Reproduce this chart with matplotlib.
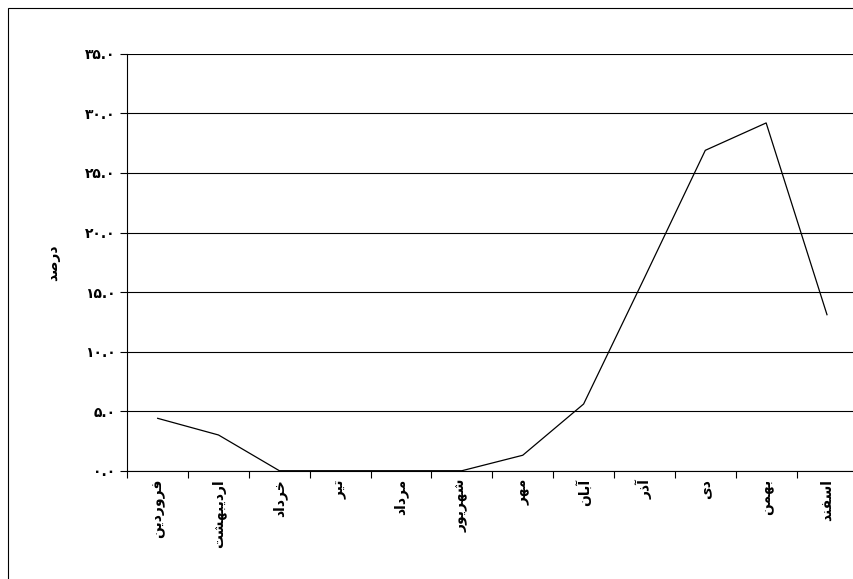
import matplotlib
matplotlib.use("Agg")
import matplotlib.pyplot as plt
from matplotlib.patches import Rectangle

months = ["فروردین", "اردیبهشت", "خرداد", "تیر", "مرداد", "شهریور",
          "مهر", "آبان", "آذر", "دی", "بهمن", "اسفند"]
values = [4.4, 3.0, 0.0, 0.0, 0.0, 0.0, 1.3, 5.6, 16.2, 26.9, 29.2, 13.1]
yticks = [0, 5, 10, 15, 20, 25, 30, 35]
ylabel = "درصد"

# crude arabic shaping: isolated, final, initial, medial
FORMS = {
    'ا': (0xFE8D, 0xFE8E), 'آ': (0xFE81, 0xFE82), 'د': (0xFEA9, 0xFEAA),
    'ذ': (0xFEAB, 0xFEAC), 'ر': (0xFEAD, 0xFEAE), 'و': (0xFEED, 0xFEEE),
    'ب': (0xFE8F, 0xFE90, 0xFE91, 0xFE92), 'ت': (0xFE95, 0xFE96, 0xFE97, 0xFE98),
    'خ': (0xFEA5, 0xFEA6, 0xFEA7, 0xFEA8), 'س': (0xFEB1, 0xFEB2, 0xFEB3, 0xFEB4),
    'ش': (0xFEB5, 0xFEB6, 0xFEB7, 0xFEB8), 'ص': (0xFEB9, 0xFEBA, 0xFEBB, 0xFEBC),
    'ف': (0xFED1, 0xFED2, 0xFED3, 0xFED4), 'م': (0xFEE1, 0xFEE2, 0xFEE3, 0xFEE4),
    'ن': (0xFEE5, 0xFEE6, 0xFEE7, 0xFEE8), 'ه': (0xFEE9, 0xFEEA, 0xFEEB, 0xFEEC),
    'ی': (0xFBFC, 0xFBFD, 0xFBFE, 0xFBFF),
}

def shape(s):
    out = []
    for i, c in enumerate(s):
        f = FORMS.get(c)
        if f is None:
            out.append(c)
            continue
        prev = s[i - 1] if i > 0 else None
        nxt = s[i + 1] if i + 1 < len(s) else None
        join_prev = prev in FORMS and len(FORMS[prev]) == 4
        join_next = len(f) == 4 and nxt in FORMS
        if join_prev and join_next:
            out.append(chr(f[3]))
        elif join_prev:
            out.append(chr(f[1]))
        elif join_next:
            out.append(chr(f[2]))
        else:
            out.append(chr(f[0]))
    return ''.join(out)[::-1]

def fa_num(v):
    s = "%.1f" % v
    return s.translate(str.maketrans("0123456789", "۰۱۲۳۴۵۶۷۸۹"))

plt.rcParams['font.family'] = ['DejaVu Sans']
fig = plt.figure(figsize=(8.54, 5.79), dpi=100)
ax = fig.add_axes([0.149, 0.187, 0.855, 0.72])
x = list(range(len(months)))
ax.plot(x, values, color='k', linewidth=0.9)
ax.set_xlim(-0.5, len(months) - 0.5)
ax.set_ylim(0, 35)
ax.set_yticks(yticks)
ax.set_yticklabels([fa_num(v) for v in yticks], fontsize=10, fontweight='bold')
ax.yaxis.grid(True, color='k', linewidth=0.8)
ax.set_xticks([i - 0.5 for i in range(len(months) + 1)])
ax.set_xticklabels([])
ax.set_xticks(x, minor=True)
ax.set_xticklabels([shape(m) for m in months], minor=True, rotation=90,
                   fontsize=10, fontweight='bold')
ax.tick_params(axis='x', which='minor', length=0, pad=6)
ax.tick_params(axis='x', which='major', length=5, direction='out')
ax.tick_params(axis='y', length=5, direction='out')
for sp in ['top', 'right']:
    ax.spines[sp].set_visible(False)
ax.set_ylabel(shape(ylabel), fontsize=10, fontweight='bold', labelpad=18)
fig.patches.append(Rectangle((0.009, -0.1), 1.2, 1.086, transform=fig.transFigure,
                             fill=False, edgecolor='k', linewidth=0.8))
fig.savefig("out.png", dpi=100)
